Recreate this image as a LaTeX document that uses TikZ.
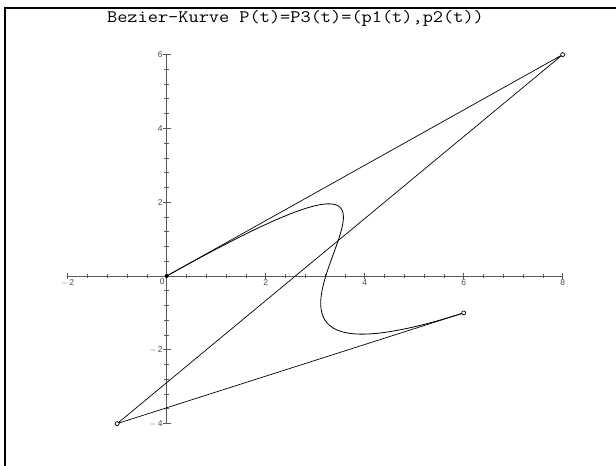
\documentclass[tikz,border=0pt]{standalone}
\usepackage{fontspec}
\usepackage{graphicx}
\setmainfont{Liberation Sans}
\begin{document}
\begin{tikzpicture}[x=1pt,y=1pt,
  axis/.style={draw=black!65,line width=0.9pt},
  tick/.style={draw=black!65,line width=0.8pt},
  ticklab/.style={font=\fontsize{8.5}{9}\selectfont,text=black!70,inner sep=1pt},
  ctrl/.style={line width=0.7pt},
  curve/.style={line width=0.8pt},
  pt/.style={circle,draw,line width=0.7pt,minimum size=4pt,inner sep=0pt}]
\useasboundingbox (0,0) rectangle (616,466);
% frame (top and left edges)
\draw[line width=2pt] (5,0) -- (5,458) -- (616,458);
% title
\node[font=\ttfamily\fontsize{17.5}{20}\selectfont,anchor=base,inner sep=0pt] (title) at (295.5,443.5) {\scalebox{1.13}[1]{Bezier-Kurve P(t)=P3(t)=(p1(t),p2(t))}};
\begin{scope}[shift={(166.7,190)},x=49.5pt,y=36.9pt]
  % axes
  \draw[axis] (-2,0) -- (8,0);
  \draw[axis] (0,-4) -- (0,6);
  % minor ticks
  \foreach \i in {-5,...,20} {
    \draw[tick] (\i*0.4,0) ++(0,-2pt) -- ++(0,4pt);
  }
  \foreach \i in {-10,...,15} {
    \draw[tick] (0,\i*0.4) ++(-2.5pt,0) -- ++(5pt,0);
  }
  % major ticks
  \foreach \v in {-2,2,4,6,8} {
    \draw[tick] (\v,0) ++(0,-3pt) -- ++(0,6pt);
    \node[ticklab,anchor=north] (xl\v) at ([yshift=-2pt]\v,0) {\ifnum\v<0 $-$\,2\else\v\fi};
  }
  \foreach \v in {-4,-2,2,4,6} {
    \draw[tick] (0,\v) ++(-4pt,0) -- ++(8pt,0);
    \node[ticklab,anchor=east] (yl\v) at ([xshift=-3pt]0,\v) {\ifnum\v<0 $-$\,\number-\v\else\v\fi};
  }
  \node[ticklab,anchor=north east] (zero) at (-1pt,-1pt) {0};
  % control points
  \coordinate (P0) at (0,0);
  \coordinate (P1) at (8,6);
  \coordinate (P2) at (-1,-4);
  \coordinate (P3) at (6,-1);
  \draw[ctrl] (P0) -- (P1) -- (P2) -- (P3);
  \draw[curve] (P0) .. controls (P1) and (P2) .. (P3);
  \fill (P0) circle (2pt);
  \node[pt,fill=white] (m1) at (P1) {};
  \node[pt,fill=white] (m2) at (P2) {};
  \node[pt,fill=white] (m3) at (P3) {};
\end{scope}
\end{tikzpicture}
\end{document}
